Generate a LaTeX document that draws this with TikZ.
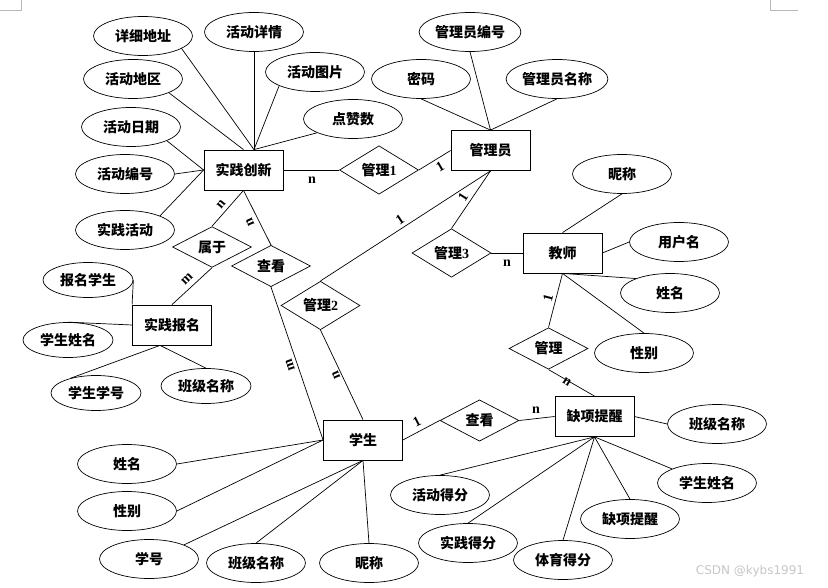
\documentclass[tikz,border=0pt]{standalone}
\usepackage{fontspec}
\setmainfont{Liberation Serif}
\newfontfamily\cjk{Noto Sans CJK SC}
\newfontfamily\wmfont{DejaVu Sans}
\usetikzlibrary{shapes.geometric,calc}
\newcommand{\zh}[1]{{\cjk #1}}
\begin{document}
\begin{tikzpicture}[x=1pt,y=-1pt,
  every node/.style={font=\bfseries\fontsize{14}{16}\selectfont, inner sep=1pt},
  ent/.style={draw, rectangle, line width=0.8pt, minimum width=79pt, minimum height=40pt},
  rel/.style={draw, diamond, line width=0.7pt, minimum width=79pt, minimum height=40pt, inner sep=0pt},
  attr/.style={draw, ellipse, line width=0.7pt, minimum width=99pt, minimum height=39pt},
  sattr/.style={draw, ellipse, line width=0.7pt, minimum width=90pt, minimum height=35pt},
  lab/.style={font=\bfseries\fontsize{14}{16}\selectfont, inner sep=0pt},
  conn/.style={line width=0.7pt},
  cornermark/.style={draw=gray!55, line width=0.8pt}]
\useasboundingbox (0,0) rectangle (828,588);
% corner marks
\coordinate (k1) at (0,10); \coordinate (k2) at (21,10); \coordinate (k3) at (21,0);
\coordinate (k4) at (770,0); \coordinate (k5) at (770,10); \coordinate (k6) at (798,10);
\draw[cornermark] (k1) -- (k2) -- (k3);
\draw[cornermark] (k4) -- (k5) -- (k6);
% entities
\node[ent] (sjcx) at (243.5,170) {\zh{实践创新}};
\node[ent] (gly) at (490.5,150.5) {\zh{管理员}};
\node[ent] (js) at (562.5,253) {\zh{教师}};
\node[ent] (sjbm) at (172,325) {\zh{实践报名}};
\node[ent] (xs) at (363,440) {\zh{学生}};
\node[ent] (qxtx) at (594.5,416.5) {\zh{缺项提醒}};
% relations
\node[rel] (gl1) at (379,170) {\zh{管理}1};
\node[rel] (sy) at (212,247) {\zh{属于}};
\node[rel] (ck1) at (271,266) {\zh{查看}};
\node[rel] (gl2) at (320.5,305.5) {\zh{管理}2};
\node[rel] (gl3) at (451.5,253) {\zh{管理}3};
\node[rel] (gl) at (548.5,348.5) {\zh{管理}};
\node[rel] (ck2) at (479.5,420.5) {\zh{查看}};
% attributes
\node[attr] (a1) at (143,36) {\zh{详细地址}};
\node[attr] (a2) at (254,32) {\zh{活动详情}};
\node[attr] (a3) at (133,79) {\zh{活动地区}};
\node[attr] (a4) at (315,72) {\zh{活动图片}};
\node[attr] (a5) at (131,127) {\zh{活动日期}};
\node[attr] (a6) at (353,119) {\zh{点赞数}};
\node[attr] (a7) at (125,174) {\zh{活动编号}};
\node[attr] (a8) at (125,230) {\zh{实践活动}};
\node[attr] (b1) at (470,32) {\zh{管理员编号}};
\node[attr] (b2) at (421,79) {\zh{密码}};
\node[attr] (b3) at (557,79) {\zh{管理员名称}};
\node[attr] (c1) at (622,174) {\zh{昵称}};
\node[attr] (c2) at (679,242) {\zh{用户名}};
\node[attr] (c3) at (670,293) {\zh{姓名}};
\node[attr] (c4) at (644,353) {\zh{性别}};
\node[sattr] (d1) at (88,280) {\zh{报名学生}};
\node[sattr] (d2) at (68,340) {\zh{学生姓名}};
\node[sattr] (d3) at (96,393) {\zh{学生学号}};
\node[sattr] (d4) at (206,386) {\zh{班级名称}};
\node[attr] (e1) at (127,464) {\zh{姓名}};
\node[attr] (e2) at (127,511) {\zh{性别}};
\node[attr] (e3) at (149,559) {\zh{学号}};
\node[attr] (e4) at (256,563) {\zh{班级名称}};
\node[attr] (e5) at (369,563) {\zh{昵称}};
\node[attr] (f1) at (717,424) {\zh{班级名称}};
\node[attr] (f2) at (707,483) {\zh{学生姓名}};
\node[attr] (f3) at (630,519) {\zh{缺项提醒}};
\node[attr] (f4) at (563,560) {\zh{体育得分}};
\node[attr] (f5) at (468,543) {\zh{实践得分}};
\node[attr] (f6) at (440,495) {\zh{活动得分}};
% helper points
\coordinate (sjcxT) at ($(sjcx.north)+(10.5,0)$);
\coordinate (sjbmB) at ($(sjbm.south)+(-12,0)$);
% attribute connectors
\draw[conn] (a1.-18) -- (sjcxT);
\draw[conn] (a2.south) -- (sjcxT);
\draw[conn] (a4.-159) -- (sjcxT);
\draw[conn] (a6.-159) -- (sjcxT);
\draw[conn] (a3.-21) -- (sjcx.north);
\draw[conn] (a5.-21) -- (sjcx.west);
\draw[conn] (a7.east) -- (sjcx.west);
\draw[conn] (a8.22) -- (sjcx.west);
\draw[conn] (b1.south) -- (gly.north);
\draw[conn] (b2.south) -- (gly.north);
\draw[conn] (b3.south) -- (gly.north);
\draw[conn] (c1.south) -- (js.north);
\draw[conn] (c2.west) -- (js.east);
\draw[conn] (c3.157) -- (js.south);
\draw[conn] (c4.north) -- (js.south);
\draw[conn] (d1.east) -- (sjbm.north west);
\draw[conn] (d2.north) -- (sjbm.west);
\draw[conn] (d3.150) -- (sjbmB);
\draw[conn] (d4.north) -- (sjbmB);
\draw[conn] (e1.east) -- (xs.west);
\draw[conn] (e2.east) -- (xs.west);
\draw[conn] (e3.22) -- (xs.south);
\draw[conn] (e4.north) -- (xs.south);
\draw[conn] (e5.north) -- (xs.south);
\draw[conn] (f1.west) -- (qxtx.east);
\draw[conn] (f2.158) -- (qxtx.south);
\draw[conn] (f3.north) -- (qxtx.south);
\draw[conn] (f4.north) -- (qxtx.south);
\draw[conn] (f5.north) -- (qxtx.south);
\draw[conn] (f6.north) -- (qxtx.south);
% relation connectors
\draw[conn] (sjcx.east) -- (gl1.west);
\draw[conn] (gl1.east) -- (gly.west);
\draw[conn] (sjcx.south) -- (sy.north);
\draw[conn] (sy.south) -- (sjbm.north);
\draw[conn] (sjcx.south) -- (ck1.north);
\draw[conn] (ck1.south) -- (xs.west);
\draw[conn] (gly.south) -- (gl2.north);
\draw[conn] (gl2.south) -- (xs.north);
\draw[conn] (gly.south) -- (gl3.north);
\draw[conn] (gl3.east) -- (js.west);
\draw[conn] (js.south) -- (gl.north);
\draw[conn] (gl.south) -- (qxtx.north);
\draw[conn] (xs.east) -- (ck2.west);
\draw[conn] (ck2.east) -- (qxtx.west);
% cardinality labels
\node[lab] (l1) at (312,180) {n};
\node[lab, rotate=30] (l2) at (440,167) {1};
\node[lab, rotate=34] (l3) at (400,220) {1};
\node[lab, rotate=58] (l4) at (463,197) {1};
\node[lab, rotate=50] (l5) at (221,204) {n};
\node[lab, rotate=114] (l6) at (250,222) {n};
\node[lab, rotate=44] (l7) at (187,279) {m};
\node[lab, rotate=109] (l8) at (290,365) {m};
\node[lab, rotate=113] (l9) at (336,375) {n};
\node[lab, rotate=75] (l10) at (548,298) {1};
\node[lab, rotate=-33] (l11) at (567,382) {n};
\node[lab] (l12) at (507,263) {n};
\node[lab, rotate=27] (l13) at (417,422) {1};
\node[lab] (l14) at (536,410) {n};
% watermark
\node[font=\wmfont\fontsize{12}{14}\selectfont, text=gray!45, inner sep=0pt] (wm) at (750,571) {CSDN @kybs1991};
\end{tikzpicture}
\end{document}
